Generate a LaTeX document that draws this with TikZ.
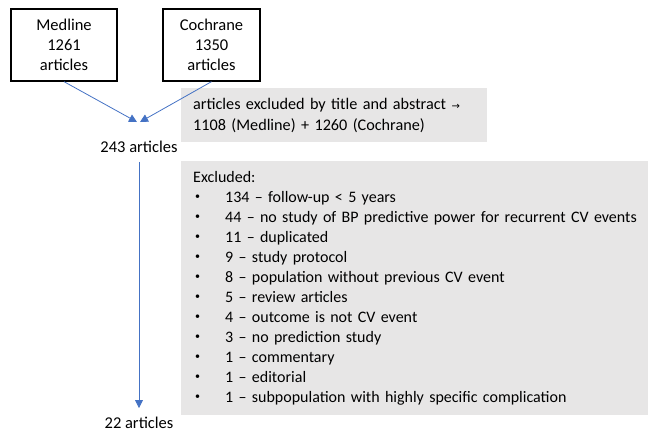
\documentclass[tikz,border=0pt]{standalone}
\usepackage{fontspec}
\setmainfont{Carlito}
\usepackage{tikz}
\usetikzlibrary{arrows.meta}
\usetikzlibrary{positioning}
\definecolor{flowblue}{HTML}{4472C4}
\definecolor{boxgray}{HTML}{E7E6E6}
\tikzset{>={Triangle[length=8pt,width=8pt]}}
\tikzset{
  source/.style={draw, line width=1.3pt, align=center, minimum height=72pt, inner sep=0pt},
  count/.style={inner sep=9pt},
  excl/.style={fill=boxgray, align=left, anchor=north west, inner xsep=12pt, inner ysep=0pt},
  flow/.style={->, color=flowblue, line width=0.8pt}
}
\newcommand{\reason}[1]{\mbox{\makebox[32pt][l]{\hspace{2pt}\raisebox{2.5pt}{\fontsize{10}{10}\selectfont\textbullet}}#1}}

\begin{document}
\begin{tikzpicture}[x=1pt, y=-1pt, font=\fontsize{16.5}{20}\selectfont]
        \useasboundingbox (0,0) rectangle (648,433);
        \node [source, minimum width=106pt] (medline) at (64,45) {Medline\\1261\\articles};
        \node [source, minimum width=97pt] (cochrane) at (211.5,45) {Cochrane\\1350\\articles};
        \node [count] (n243) at (139,147) {243 articles};
        \node [count] (n22) at (139,423) {22 articles};
        \node [excl, text width=282pt, minimum height=54pt, font=\fontsize{16.2}{21}\selectfont] (byabstract) at (181,88)
            {\mbox{articles excluded by title and abstract {\fontspec{DejaVu Sans}\fontsize{10}{12}\selectfont →}}\\1108 (Medline) + 1260 (Cochrane)};
        \node [excl, text width=443pt, minimum height=254pt, font=\fontsize{16}{20}\selectfont] (byreason) at (181,161)
            {Excluded:\\
             \reason{134 – follow-up < 5 years}\\
             \reason{44 – no study of BP predictive power for recurrent CV events}\\
             \reason{11 – duplicated}\\
             \reason{9 – study protocol}\\
             \reason{8 – population without previous CV event}\\
             \reason{5 – review articles}\\
             \reason{4 – outcome is not CV event}\\
             \reason{3 – no prediction study}\\
             \reason{1 – commentary}\\
             \reason{1 – editorial}\\
             \reason{1 – subpopulation with highly specific complication}};
        \draw [flow] (medline.south) -- ([xshift=-2pt, yshift=10pt]n243.north);
        \draw [flow] (cochrane.south) -- ([xshift=1pt, yshift=10pt]n243.north);
        \draw [flow] (n243.south) -- (n22.north);
    \end{tikzpicture}
\end{document}
